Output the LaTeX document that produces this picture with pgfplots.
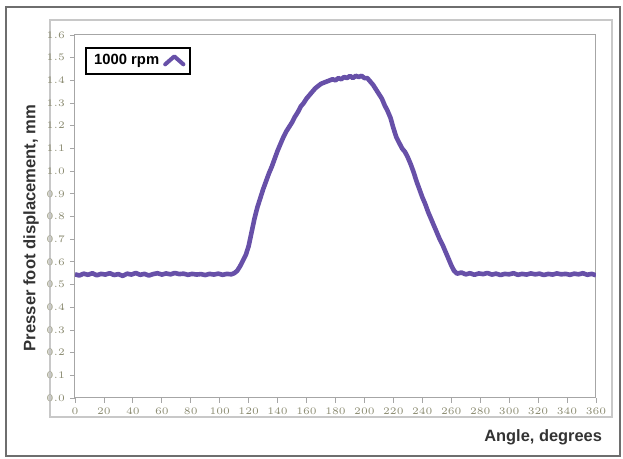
\documentclass[border=0pt]{standalone}
\usepackage{fontspec}
\setmainfont{Liberation Sans}
\usepackage{pgfplots}
\pgfplotsset{compat=1.18}
\definecolor{curve}{HTML}{6750A8}
\definecolor{framegray}{HTML}{C8C8C8}
\definecolor{outergray}{HTML}{6E6E6E}
\definecolor{ticklab}{HTML}{8A8A70}
\definecolor{labtext}{HTML}{333333}

\pgfplotstableread{
angle disp
0 0.545
3 0.540
6 0.548
9 0.543
12 0.550
15 0.541
18 0.547
21 0.544
24 0.550
27 0.542
30 0.546
33 0.538
36 0.548
39 0.544
42 0.551
45 0.543
48 0.547
51 0.540
54 0.546
57 0.550
60 0.544
63 0.549
66 0.545
69 0.551
72 0.546
75 0.548
78 0.543
81 0.547
84 0.544
87 0.546
90 0.542
93 0.547
96 0.544
99 0.548
102 0.543
105 0.547
108 0.545
110 0.550
112 0.560
114 0.580
116 0.605
118 0.630
120 0.670
122 0.730
124 0.790
126 0.840
128 0.880
130 0.920
132 0.955
134 0.990
136 1.020
138 1.055
140 1.090
142 1.120
144 1.150
146 1.175
148 1.195
150 1.215
152 1.240
154 1.260
156 1.285
158 1.300
160 1.320
162 1.335
164 1.350
166 1.365
168 1.375
170 1.385
172 1.390
174 1.395
176 1.400
178 1.405
180 1.400
182 1.410
184 1.405
186 1.415
188 1.410
190 1.420
192 1.410
194 1.420
196 1.415
198 1.420
200 1.410
202 1.410
204 1.395
206 1.380
208 1.360
210 1.340
212 1.320
214 1.290
216 1.265
218 1.235
220 1.190
222 1.150
224 1.125
226 1.100
228 1.085
230 1.060
232 1.030
234 0.995
236 0.955
238 0.920
240 0.885
242 0.855
244 0.820
246 0.790
248 0.760
250 0.730
252 0.700
254 0.675
256 0.645
258 0.615
260 0.585
262 0.560
264 0.548
267 0.553
270 0.545
273 0.550
276 0.543
279 0.549
282 0.546
285 0.551
288 0.544
291 0.548
294 0.542
297 0.547
300 0.545
303 0.550
306 0.543
309 0.547
312 0.544
315 0.549
318 0.545
321 0.548
324 0.542
327 0.547
330 0.544
333 0.549
336 0.545
339 0.547
342 0.543
345 0.548
348 0.545
351 0.550
354 0.543
357 0.547
360 0.541
}\rpmdata

\begin{document}
\begin{tikzpicture}
\useasboundingbox (-37.5pt,-30.5pt) rectangle (274pt,199pt);
% outer and inner frames
\draw[outergray, line width=1.4pt] (-34.5pt,-29pt) rectangle (272.5pt,195.5pt);
\draw[framegray, line width=0.9pt] (-12.5pt,-9.5pt) rectangle (268.5pt,189pt);
\begin{axis}[
  at={(0,0)}, anchor=south west,
  scale only axis,
  width=260.5pt, height=181.5pt,
  xmin=0, xmax=360, ymin=0, ymax=1.6,
  xtick={0,20,...,360},
  ytick={0,0.1,...,1.6},
  yticklabel style={/pgf/number format/fixed, /pgf/number format/fixed zerofill, /pgf/number format/precision=1, xshift=1pt},
  tick label style={font=\fontsize{4.5}{5}\selectfont, text=ticklab},
  tick align=outside,
  major tick length=2.5pt,
  tick style={draw=gray!70, line width=0.4pt},
  axis line style={draw=gray!70, line width=0.5pt},
  xtick pos=bottom, ytick pos=left,
  xticklabel style={yshift=1pt},
  legend plot pos=right,
  legend style={
    at={(0.019,0.967)}, anchor=north west,
    draw=black, line width=0.9pt,
    font=\fontsize{7.4}{8}\selectfont\bfseries,
    inner xsep=2.2pt, inner ysep=1.2pt, row sep=0pt,
    legend cell align=left
  },
  legend image code/.code={
    \draw[curve, line width=2pt, line cap=round, line join=round]
      (0.0cm,-0.06cm) -- (0.16cm,0.08cm) -- (0.32cm,-0.06cm);
  },
]
\addplot[curve, line width=2.3pt, line join=round] table[x=angle, y=disp] {\rpmdata};
\legend{1000 rpm}
\end{axis}
\node[anchor=east, font=\fontsize{8.2}{9}\selectfont\bfseries, text=labtext]
  at (267pt,-19.5pt) {Angle, degrees};
\node[rotate=90, font=\fontsize{8.3}{9}\selectfont\bfseries, text=labtext]
  at (-22pt,85pt) {Presser foot displacement, mm};
\end{tikzpicture}
\end{document}
